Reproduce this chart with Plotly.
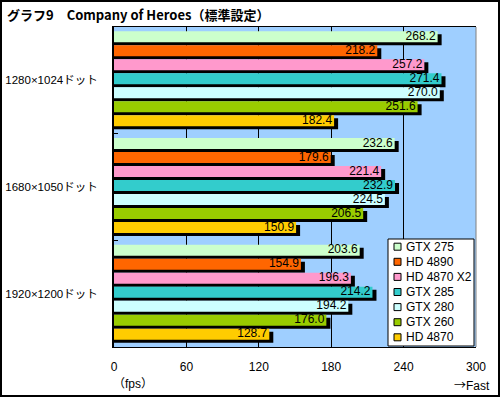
import plotly.graph_objects as go

# ---- data ----
resolutions = ["1280×1024ドット", "1680×1050ドット", "1920×1200ドット"]
gpus = ["GTX 275", "HD 4890", "HD 4870 X2", "GTX 285", "GTX 280", "GTX 260", "HD 4870"]
fps_1280 = [268.2, 218.2, 257.2, 271.4, 270.0, 251.6, 182.4]
fps_1680 = [232.6, 179.6, 221.4, 232.9, 224.5, 206.5, 150.9]
fps_1920 = [203.6, 154.9, 196.3, 214.2, 194.2, 176.0, 128.7]
x_ticks = [0, 60, 120, 180, 240, 300]
colors = ["#CCFFCC", "#FF6600", "#FF99CC", "#33CCCC", "#CCFFFF", "#99CC00", "#FFCC00"]

series_by_res = [fps_1280, fps_1680, fps_1920]

# ---- geometry helpers ----
W, H = 500, 397
L, R, T, B = 114, 24, 27, 50
PW = W - L - R
PH = H - T - B


def px_x(p):
    return (p - L) / PW


def px_y(p):
    return 1 - (p - T) / PH


unit_y = PH / len(resolutions)
pitch = 14 / unit_y
fill = 11 / unit_y
sh_dy = 3 / unit_y
sh_dx = 4 * 300 / PW
txt_dx = 2 * 300 / PW

LAT = "Liberation Sans, Noto Sans CJK JP, sans-serif"
JP = "Noto Sans CJK JP, sans-serif"

fig = go.Figure()


def slot_center(ci, j):
    return ci + 0.5 + (j - len(gpus) / 2) * pitch + fill / 2


# shadows
sx, sy = [], []
for ci, vals in enumerate(series_by_res):
    for j, v in enumerate(vals):
        sx.append(v + sh_dx)
        sy.append(slot_center(ci, j) + sh_dy)
fig.add_trace(go.Bar(x=sx, y=sy, orientation="h", width=fill,
                     marker=dict(color="black", line_width=0),
                     showlegend=False, hoverinfo="skip"))

# bars
for j, g in enumerate(gpus):
    xs = [series_by_res[ci][j] for ci in range(len(resolutions))]
    ys = [slot_center(ci, j) for ci in range(len(resolutions))]
    fig.add_trace(go.Bar(x=xs, y=ys, orientation="h", width=fill, name=g,
                         marker=dict(color=colors[j], line_width=0),
                         showlegend=False))
for j, g in enumerate(gpus):
    xs = [series_by_res[ci][j] for ci in range(len(resolutions))]
    ys = [slot_center(ci, j) for ci in range(len(resolutions))]
    fig.add_trace(go.Scatter(x=[v - txt_dx for v in xs], y=ys, mode="text",
                             text=[f"{v:.1f}" for v in xs],
                             textposition="middle left",
                             textfont=dict(family=LAT, size=12, color="black"),
                             showlegend=False, hoverinfo="skip"))

shapes = []
annotations = []

# right gray border of plot
shapes.append(dict(type="line", xref="paper", yref="paper", x0=1, x1=1, y0=0, y1=1,
                   line=dict(color="#808080", width=1)))

# legend (manual)
lx0, lx1, ly0, ly1 = 388, 474, 239, 346
shapes.append(dict(type="rect", xref="paper", yref="paper",
                   x0=px_x(lx0), x1=px_x(lx1), y0=px_y(ly1), y1=px_y(ly0),
                   line=dict(color="black", width=1), fillcolor="white"))
for j, g in enumerate(gpus):
    cy = 246.7 + j * 15.1
    shapes.append(dict(type="rect", xref="paper", yref="paper",
                       x0=px_x(394), x1=px_x(401), y0=px_y(cy + 3.5), y1=px_y(cy - 3.5),
                       line=dict(color="black", width=1), fillcolor=colors[j]))
    annotations.append(dict(xref="paper", yref="paper", x=px_x(403.5), y=px_y(cy),
                            xanchor="left", yanchor="middle", showarrow=False,
                            text=g, font=dict(family=LAT, size=12, color="black")))

# outer border
shapes.append(dict(type="rect", xref="paper", yref="paper",
                   x0=px_x(1), x1=px_x(499), y0=px_y(396), y1=px_y(1),
                   line=dict(color="black", width=2), fillcolor="rgba(0,0,0,0)"))

# axis captions
annotations.append(dict(xref="paper", yref="paper", x=px_x(111), y=px_y(384),
                        xanchor="left", yanchor="middle", showarrow=False,
                        text="（fps）", font=dict(family=LAT, size=12, color="black")))
annotations.append(dict(xref="paper", yref="paper", x=px_x(492), y=px_y(384),
                        xanchor="right", yanchor="middle", showarrow=False,
                        text="<span style='font-family:Noto Sans CJK JP'>→</span>Fast",
                        font=dict(family=LAT, size=12, color="black")))

fig.update_layout(
    width=W, height=H,
    margin=dict(l=L, r=R, t=T, b=B, autoexpand=False),
    paper_bgcolor="white",
    plot_bgcolor="#9FCFFF",
    barmode="overlay",
    showlegend=False,
    title=dict(text="<b>グラフ9　Company of Heroes（標準設定）</b>",
               x=7 / W, xanchor="left", xref="container",
               y=1 - 15 / H, yanchor="middle", yref="container",
               font=dict(family=JP, size=13, color="black")),
    xaxis=dict(range=[0, 300], tickvals=x_ticks, ticktext=[str(v) for v in x_ticks],
               showgrid=True, gridcolor="black", gridwidth=1,
               showline=True, linecolor="black", linewidth=1, mirror=True,
               zeroline=False, ticks="", ticklabelstandoff=9, automargin=False,
               tickfont=dict(family=LAT, size=12, color="black"), fixedrange=True),
    yaxis=dict(range=[3, 0], tickvals=[0.5, 1.5, 2.5], ticktext=resolutions,
               showgrid=False, zeroline=False, automargin=False,
               showline=True, linecolor="black", linewidth=2,
               ticks="", ticklabelstandoff=12,
               minor=dict(tickmode="array", tickvals=[1, 2], ticks="inside",
                          ticklen=4, tickcolor="black", showgrid=False),
               tickfont=dict(family=LAT, size=11.5, color="black"), fixedrange=True),
    shapes=shapes,
    annotations=annotations,
)

fig.write_html(
    "out.html",
    config={"displayModeBar": False},
    post_script="document.body.style.margin='0';document.body.style.overflow='hidden';",
)
